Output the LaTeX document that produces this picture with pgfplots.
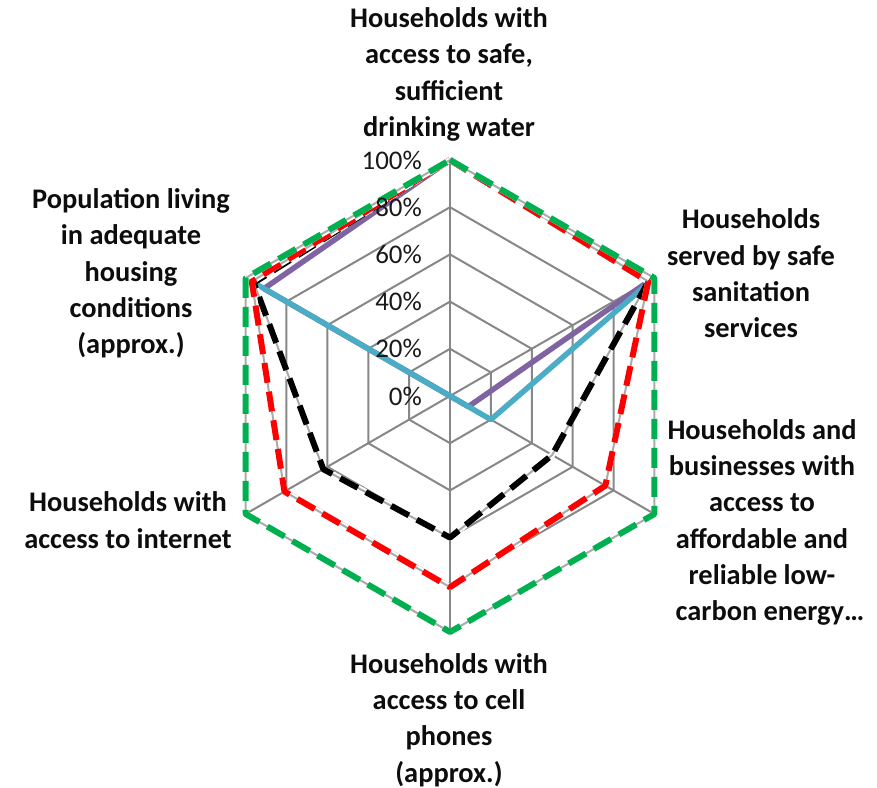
\documentclass[border=0pt]{standalone}
\usepackage{fontspec}
\setmainfont{Carlito}
\usepackage{pgfplots}
\pgfplotsset{compat=1.18}
\usepgfplotslibrary{polar}
\definecolor{sgreen}{HTML}{00B050}
\definecolor{sred}{HTML}{FF0000}
\definecolor{spurple}{HTML}{8064A2}
\definecolor{scyan}{HTML}{4BACC6}
\definecolor{gridc}{HTML}{878787}
\begin{document}
\begin{tikzpicture}[x=1bp,y=1bp]
\path[use as bounding box] (0,0) rectangle (877,788);
\begin{polaraxis}[at={(450bp,392bp)}, anchor=center,
  width=472bp, height=472bp, scale only axis,
  ymin=0, ymax=100, hide axis, clip=false,
  xtick=\empty, ytick=\empty,
  every axis plot/.append style={no marks, line join=round},
  dstyle/.style={dash pattern=on 20bp off 9bp, line width=6bp,
     preaction={draw, solid, white, line width=6bp},
     preaction={draw, solid, gridc!70, line width=2bp}},
]
% grid
\addplot[gridc, line width=2bp] coordinates {(90,20)(30,20)(-30,20)(-90,20)(-150,20)(150,20)(90,20)};
\addplot[gridc, line width=2bp] coordinates {(90,40)(30,40)(-30,40)(-90,40)(-150,40)(150,40)(90,40)};
\addplot[gridc, line width=2bp] coordinates {(90,60)(30,60)(-30,60)(-90,60)(-150,60)(150,60)(90,60)};
\addplot[gridc, line width=2bp] coordinates {(90,80)(30,80)(-30,80)(-90,80)(-150,80)(150,80)(90,80)};
\addplot[gridc, line width=2bp] coordinates {(90,100)(30,100)(-30,100)(-90,100)(-150,100)(150,100)(90,100)};
\addplot[gridc, line width=2bp] coordinates {(90,0)(90,100)};
\addplot[gridc, line width=2bp] coordinates {(30,0)(30,100)};
\addplot[gridc, line width=2bp] coordinates {(-30,0)(-30,100)};
\addplot[gridc, line width=2bp] coordinates {(-90,0)(-90,100)};
\addplot[gridc, line width=2bp] coordinates {(-150,0)(-150,100)};
\addplot[gridc, line width=2bp] coordinates {(150,0)(150,100)};
% series
\addplot[spurple, line width=5.5bp] coordinates {(90,100)(30,97)(-30,9)(-90,0)(-150,0)(150,91)(90,100)};
\addplot[scyan, line width=5.5bp] coordinates {(90,100)(30,100)(-30,20)(-90,0)(-150,0)(150,97)(90,100)};
\addplot[black, dstyle] coordinates {(90,100)(30,97)(-30,50)(-90,60)(-150,62)(150,96)(90,100)};
\addplot[sred, dstyle] coordinates {(90,100)(30,97)(-30,76)(-90,81)(-150,81)(150,97)(90,100)};
\addplot[sgreen, dstyle] coordinates {(90,100)(30,100)(-30,100)(-90,100)(-150,100)(150,100)(90,100)};
% tick labels
\foreach \v in {0,20,40,60,80,100}{
  \edef\temp{\noexpand\node[anchor=east, font=\noexpand\fontsize{27}{30}\noexpand\selectfont, text=black!90, inner sep=0pt, xshift=-28bp] at (axis cs:90,\v) {\v\noexpand\%};}
  \temp
}
\end{polaraxis}
\tikzset{lab/.style={align=center, inner sep=0pt, font=\fontsize{28.5}{36.5}\selectfont\bfseries, text=black!95}}
\node[lab] at (449,713.5) {Households with\\access to safe,\\sufficient\\drinking water};
\node[lab] at (131,514.5) {Population living\\in adequate\\housing\\conditions\\(approx.)};
\node[lab] at (751,514.5) {Households\\served by safe\\sanitation\\services};
\node[lab] at (762,265.5) {Households and\\businesses with\\access to\\affordable and\\reliable low-\\\hspace*{16bp}carbon energy…};
\node[lab] at (128,268) {Households with\\access to internet};
\node[lab] at (449,68) {Households with\\access to cell\\phones\\(approx.)};
\end{tikzpicture}
\end{document}
